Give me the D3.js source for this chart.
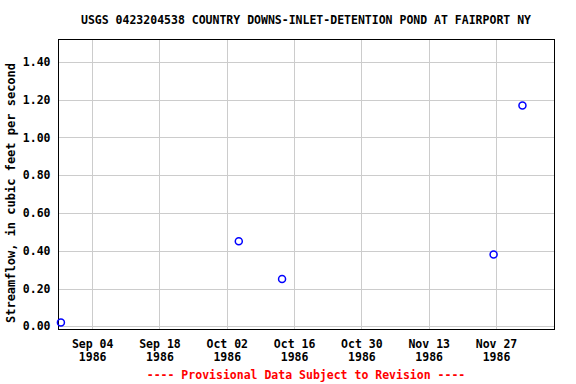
<!DOCTYPE html>
<html>
<head>
<meta charset="utf-8">
<script src="https://cdn.jsdelivr.net/npm/d3@7"></script>
<style>
  body { margin: 0; background: #fff; }
  svg text { font-family: "DejaVu Sans Mono", monospace; font-weight: bold; }
  .grid line { stroke: #cccccc; stroke-width: 1; }
</style>
</head>
<body>
<svg id="chart"></svg>
<script>
const size = {w: 576, h: 384};
const plot = {l: 58.5, r: 554.5, t: 39.5, b: 329.5};

// data (daily values, plotted at noon)
const dates = ['1986-08-28T12:00', '1986-10-04T12:00', '1986-10-13T12:00', '1986-11-26T12:00', '1986-12-02T12:00'];
const flows = [0.02, 0.45, 0.25, 0.38, 1.17];
const xTicks = ['1986-09-04', '1986-09-18', '1986-10-02', '1986-10-16', '1986-10-30', '1986-11-13', '1986-11-27'];
const yTicks = [0.0, 0.2, 0.4, 0.6, 0.8, 1.0, 1.2, 1.4];

const parse = d3.timeParse('%Y-%m-%dT%H:%M');
const parseDay = d3.timeParse('%Y-%m-%d');
const points = dates.map((d, i) => ({date: parse(d), value: flows[i]}));
const tickDates = xTicks.map(parseDay);

const svg = d3.select('svg#chart')
    .attr('width', size.w)
    .attr('height', size.h);

const x = d3.scaleTime()
    .domain([new Date(1986, 7, 28, 0), new Date(1986, 11, 9, 4)])
    .range([plot.l, plot.r]);

const y = d3.scaleLinear()
    .domain([-0.017, 1.519])
    .range([plot.b, plot.t]);

// grid lines
const grid = svg.append('g').classed('grid', true);

grid.selectAll('line.v')
    .data(tickDates)
    .join('line')
    .classed('v', true)
    .attr('x1', d => Math.round(x(d)) + 0.5)
    .attr('x2', d => Math.round(x(d)) + 0.5)
    .attr('y1', plot.t)
    .attr('y2', plot.b);

grid.selectAll('line.h')
    .data(yTicks)
    .join('line')
    .classed('h', true)
    .attr('x1', plot.l)
    .attr('x2', plot.r)
    .attr('y1', d => Math.round(y(d)) + 0.5)
    .attr('y2', d => Math.round(y(d)) + 0.5);

// x axis, two line labels
const xAxis = svg.append('g')
    .attr('transform', `translate(0, ${plot.b})`)
    .call(d3.axisBottom(x).tickValues(tickDates).tickSize(0).tickPadding(0).tickFormat(''));
xAxis.select('.domain').remove();
xAxis.selectAll('.tick text').remove();
xAxis.selectAll('.tick')
    .append('text')
    .attr('fill', '#000')
    .attr('text-anchor', 'middle')
    .style('font-size', '11.5px')
    .each(function(d) {
        const t = d3.select(this);
        t.append('tspan').attr('x', 0).attr('y', 18).text(d3.timeFormat('%b %d')(d));
        t.append('tspan').attr('x', 0).attr('y', 31).text(d3.timeFormat('%Y')(d));
    });

// y axis
const yAxis = svg.append('g')
    .attr('transform', `translate(${plot.l}, 0)`)
    .call(d3.axisLeft(y).tickValues(yTicks).tickSize(0).tickPadding(8).tickFormat(d3.format('.2f')));
yAxis.select('.domain').remove();
yAxis.selectAll('.tick text')
    .attr('fill', '#000')
    .style('font-size', '11.5px');

// frame
svg.append('rect')
    .attr('x', plot.l)
    .attr('y', plot.t)
    .attr('width', plot.r - plot.l)
    .attr('height', plot.b - plot.t)
    .attr('fill', 'none')
    .attr('stroke', '#000')
    .attr('stroke-width', 1);

// points
svg.append('g')
    .selectAll('circle')
    .data(points)
    .join('circle')
    .attr('cx', d => x(d.date))
    .attr('cy', d => y(d.value))
    .attr('r', 3.5)
    .attr('fill', 'none')
    .attr('stroke', '#0000ff')
    .attr('stroke-width', 1.5);

// titles
svg.append('text')
    .attr('x', 306)
    .attr('y', 24)
    .attr('text-anchor', 'middle')
    .style('font-size', '11.5px')
    .text('USGS 0423204538 COUNTRY DOWNS-INLET-DETENTION POND AT FAIRPORT NY');

svg.append('text')
    .attr('transform', 'translate(15, 193) rotate(-90)')
    .attr('text-anchor', 'middle')
    .style('font-size', '12px')
    .text('Streamflow, in cubic feet per second');

svg.append('text')
    .attr('x', 306)
    .attr('y', 379)
    .attr('text-anchor', 'middle')
    .attr('fill', '#ff0000')
    .style('font-size', '11.5px')
    .text('---- Provisional Data Subject to Revision ----');
</script>
</body>
</html>
